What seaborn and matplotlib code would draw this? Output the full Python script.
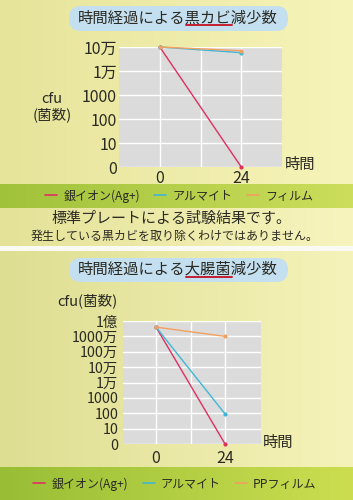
import numpy as np
import pandas as pd
import matplotlib
matplotlib.use("Agg")
import matplotlib.pyplot as plt
import seaborn as sns
from matplotlib.patches import FancyBboxPatch
from matplotlib.lines import Line2D

# ---------------- data ----------------
hours = [0, 24]
mold_ag = [1e5, 1]
mold_alumite = [1e5, 5.8e4]
mold_film = [1e5, 7.0e4]
mold_series = ["銀イオン(Ag+)", "アルマイト", "フィルム"]

ecoli_ag = [4e7, 1]
ecoli_alumite = [4e7, 90]
ecoli_pp = [4e7, 1e7]
ecoli_series = ["銀イオン(Ag+)", "アルマイト", "PPフィルム"]

mold_yticks = [1, 10, 100, 1000, 1e4, 1e5]
mold_yticklabels = ["0", "10", "100", "1000", "1万", "10万"]
ecoli_yticks = [1, 10, 100, 1000, 1e4, 1e5, 1e6, 1e7, 1e8]
ecoli_yticklabels = ["0", "10", "100", "1000", "1万", "10万", "100万", "1000万", "1億"]
xticks = [0, 12, 24]
xticklabels = ["0", "", "24"]

mold_title = ("時間経過による", "黒カビ", "減少数")
ecoli_title = ("時間経過による", "大腸菌", "減少数")
note1 = "標準プレートによる試験結果です。"
note2 = "発生している黒カビを取り除くわけではありません。"

colors = ["#e03060", "#3fb6d6", "#f2a060"]

# ---------------- style ----------------
sns.set_theme(style="whitegrid", rc={
    "axes.facecolor": "#dbdbdb",
    "grid.color": "white",
    "grid.linewidth": 1.0,
})
plt.rcParams["font.family"] = ["Noto Sans CJK JP", "DejaVu Sans"]
TXT = "#2a2a22"

W, H = 353, 500
fig = plt.figure(figsize=(W / 100, H / 100), dpi=100)
R = fig.canvas.get_renderer()

def text_width(s, size):
    t = fig.text(0, 0, s, fontsize=size)
    w = t.get_window_extent(R).width
    t.remove()
    return w

def fit_size(s, target_px, base=10.0):
    return base * target_px / text_width(s, base)

# background gradient (decoration)
img = np.zeros((H, W, 3))
xs = np.linspace(0, 1, W)[None, :, None]
def band(y0, y1, c_left, c_right):
    cl = np.array(c_left) / 255.0
    cr = np.array(c_right) / 255.0
    img[y0:y1] = cl * (1 - xs) + cr * xs
band(0, 184, (230, 228, 154), (247, 244, 186))
band(184, 208, (160, 194, 58), (204, 222, 92))
band(208, 246, (228, 226, 152), (247, 244, 190))
band(246, 251, (250, 250, 245), (250, 250, 245))
band(251, 467, (222, 222, 146), (246, 243, 186))
band(467, 500, (152, 190, 54), (204, 222, 80))
bg = fig.add_axes([0, 0, 1, 1], zorder=-10)
bg.imshow(img, aspect="auto", extent=[0, 1, 0, 1], interpolation="bilinear")
bg.axis("off")

def make_df(series, vals):
    rows = []
    for name, v in zip(series, vals):
        for h, y in zip(hours, v):
            rows.append({"時間": h, "cfu": y, "材料": name})
    return pd.DataFrame(rows)

def draw_panel(rect, df, series, yticks, yticklabels, ylim, xlim, ypad, xpad, ysize):
    ax = fig.add_axes(rect)
    sns.lineplot(data=df, x="時間", y="cfu", hue="材料", hue_order=series,
                 palette=dict(zip(series, colors)), marker="o", markersize=3,
                 markeredgewidth=0, linewidth=1.0, ax=ax, legend=True)
    ax.set_yscale("log")
    ax.set_ylim(*ylim)
    ax.set_xlim(*xlim)
    ax.set_yticks(yticks, yticklabels)
    ax.minorticks_off()
    ax.set_xticks(xticks, xticklabels)
    ax.tick_params(axis="y", length=0, pad=ypad, labelsize=ysize, colors=TXT)
    ax.tick_params(axis="x", length=0, pad=xpad, labelsize=11.5, colors=TXT)
    for s in ax.spines.values():
        s.set_visible(False)
    ax.set_axisbelow(True)
    for ln in ax.lines:
        ln.set_clip_on(False)
    handles, labels = ax.get_legend_handles_labels()
    ax.get_legend().remove()
    for hd in handles:
        hd.set_marker("")
        hd.set_linewidth(1.2)
    return ax, handles, labels

def px2fig(x0, x1, ytop, ybot):
    return [x0 / W, 1 - ybot / H, (x1 - x0) / W, (ybot - ytop) / H]

def title(parts, cy, pill_top, pill_bot, target_w):
    pill = FancyBboxPatch((0.69, (H - pill_bot) / 100), 2.19, (pill_bot - pill_top) / 100,
                          boxstyle="round,pad=0,rounding_size=0.12",
                          transform=fig.dpi_scale_trans, facecolor="#c4dff0",
                          edgecolor="none", zorder=1)
    fig.add_artist(pill)
    full = "".join(parts)
    size = fit_size(full, target_w)
    t = fig.text(178 / W, 1 - cy / H, full, ha="center", va="center",
                 fontsize=size, color=TXT, zorder=2)
    bb = t.get_window_extent(R)
    w0 = text_width(parts[0], size)
    w1 = text_width(parts[0] + parts[1], size)
    inv = fig.transFigure.inverted()
    (xa, ya) = inv.transform((bb.x0 + w0, bb.y0 + 1.0))
    (xb, _) = inv.transform((bb.x0 + w1, bb.y0))
    fig.add_artist(Line2D([xa, xb], [ya, ya], transform=fig.transFigure,
                          color="#c41e30", linewidth=1.4, zorder=3))

leg_size = fit_size("銀イオン(Ag+)", 77)

# ---------------- top panel ----------------
title(mold_title, 18, 6, 31, 199)
df1 = make_df(mold_series, [mold_ag, mold_alumite, mold_film])
ax1, h1, l1 = draw_panel(px2fig(119, 282, 47, 167), df1, mold_series,
                         mold_yticks, mold_yticklabels, (1, 1e5), (-12, 36), 1.5, 2, 11.5)
ax1.set_ylabel("cfu\n(菌数)", rotation=0, ha="center", va="center",
               fontsize=10.5, color=TXT, linespacing=1.15)
ax1.yaxis.set_label_coords((52 - 119) / 163, 0.5)
ax1.set_xlabel("時間", fontsize=11, color=TXT, ha="center", va="center")
ax1.xaxis.set_label_coords((300 - 119) / 163, 0.02)
fig.legend(h1, l1, loc="center", bbox_to_anchor=(179 / W, 1 - 196 / H), ncol=3,
           frameon=False, fontsize=leg_size, handlelength=1.0, handletextpad=0.5,
           columnspacing=1.2, labelcolor=TXT, borderpad=0)
fig.text(172 / W, 1 - 219 / H, note1, ha="center", va="center",
         fontsize=fit_size(note1, 240), color=TXT)
fig.text(175 / W, 1 - 236 / H, note2, ha="center", va="center",
         fontsize=fit_size(note2, 288), color=TXT)

# ---------------- bottom panel ----------------
title(ecoli_title, 269, 258, 282, 199)
df2 = make_df(ecoli_series, [ecoli_ag, ecoli_alumite, ecoli_pp])
ax2, h2, l2 = draw_panel(px2fig(123, 261, 321, 444), df2, ecoli_series,
                         ecoli_yticks, ecoli_yticklabels, (1, 1e8), (-11.5, 36.5), 3.5, 4, 10.3)
ax2.set_ylabel("cfu(菌数)", rotation=0, ha="right", va="center", fontsize=10.5, color=TXT)
ax2.yaxis.set_label_coords((118 - 123) / 138, (444 - 301) / 123)
ax2.set_xlabel("時間", fontsize=11, color=TXT, ha="center", va="center")
ax2.xaxis.set_label_coords((278 - 123) / 138, 0.01)
fig.legend(h2, l2, loc="center", bbox_to_anchor=(175 / W, 1 - 484 / H), ncol=3,
           frameon=False, fontsize=leg_size, handlelength=1.0, handletextpad=0.5,
           columnspacing=1.2, labelcolor=TXT, borderpad=0)

fig.savefig("out.png", dpi=100)
